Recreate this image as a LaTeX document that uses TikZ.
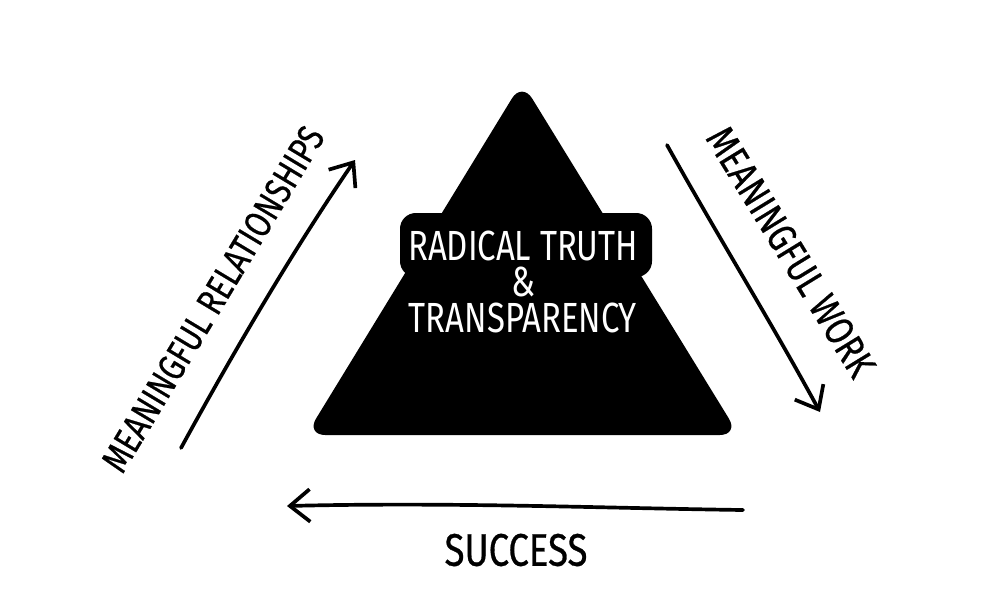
\documentclass[tikz,border=0pt]{standalone}
\usepackage{fontspec}
\newfontfamily\hand{Fira Sans}[FakeStretch=0.8,FakeBold=0.6]
\newfontfamily\handw{Fira Sans}[FakeStretch=0.78]
\usetikzlibrary{arrows.meta}
\begin{document}
\begin{tikzpicture}[x=0.02cm,y=-0.02cm,
  stroke/.style={line width=2.1pt,line cap=round,line join=round,
    -{Straight Barb[length=4mm,width=6.5mm,line width=2.1pt]}},
  lbl/.style={font=\hand\fontsize{23}{26}\selectfont,inner sep=0pt},
  wlbl/.style={font=\handw\fontsize{24}{20.4}\selectfont,text=white,align=center,inner sep=0pt}]
\useasboundingbox (0,0) rectangle (1000,600);
% pyramid
\fill[rounded corners=11pt] (306,435) -- (522,82) -- (739,435) -- cycle;
\fill[rounded corners=9pt] (400,213) rectangle (652,277);
\node[wlbl] (core) at (523,282) {RADICAL TRUTH\\\&\\TRANSPARENCY};
% arrows
\coordinate (l1) at (181,448);
\coordinate (l2) at (355,160);
\coordinate (r1) at (667,145);
\coordinate (r2) at (820,412);
\coordinate (b1) at (743,510);
\coordinate (b2) at (287,506);
\draw[stroke] (l1) .. controls (240,340) and (300,240) .. (l2);
\draw[stroke] (r1) .. controls (720,240) and (770,320) .. (r2);
\draw[stroke] (b1) .. controls (600,508) and (450,502) .. (b2);
% labels
\node[lbl,font=\hand\fontsize{21.5}{24}\selectfont,rotate=59] (rel) at (213,299) {MEANINGFUL RELATIONSHIPS};
\node[lbl,rotate=-58.5] (work) at (791,252) {MEANINGFUL WORK};
\node[lbl,font=\hand\fontsize{26}{30}\selectfont] (succ) at (516,550) {SUCCESS};
\end{tikzpicture}
\end{document}
